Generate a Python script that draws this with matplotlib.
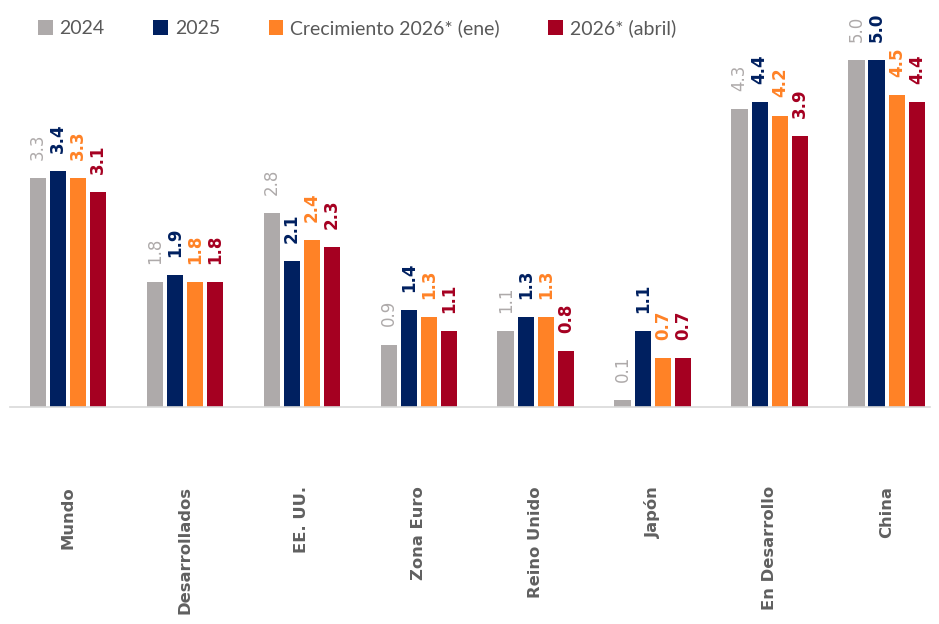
import numpy as np
import matplotlib.pyplot as plt
from matplotlib.patches import Patch

categorias = ["Mundo", "Desarrollados", "EE. UU.", "Zona Euro", "Reino Unido",
              "Japón", "En Desarrollo", "China"]
series = ["2024", "2025", "Crecimiento 2026* (ene)", "2026* (abril)"]
v2024 = [3.3, 1.8, 2.8, 0.9, 1.1, 0.1, 4.3, 5.0]
v2025 = [3.4, 1.9, 2.1, 1.4, 1.3, 1.1, 4.4, 5.0]
v2026_ene = [3.3, 1.8, 2.4, 1.3, 1.3, 0.7, 4.2, 4.5]
v2026_abr = [3.1, 1.8, 2.3, 1.1, 0.8, 0.7, 3.9, 4.4]

colores = ["#AEAAAA", "#002060", "#FF8226", "#A50021"]
negrita = ["normal", "bold", "bold", "bold"]

fig = plt.figure(figsize=(9.39, 6.24), dpi=100)
ax = fig.add_axes([10 / 939, 217 / 624, 920 / 939, 387 / 624])

x = np.arange(len(categorias))
paso = 0.172
ancho = 0.14
valores = [v2024, v2025, v2026_ene, v2026_abr]

for k, vals in enumerate(valores):
    pos = x + (k - 1.5) * paso
    barras = ax.bar(pos, vals, width=ancho, color=colores[k], zorder=2)
    for barra, v in zip(barras, vals):
        ax.annotate(f"{v:.1f}", (barra.get_x() + barra.get_width() / 2, v),
                    xytext=(0, 13), textcoords="offset points",
                    rotation=90, ha="center", va="bottom",
                    fontsize=12, fontweight=negrita[k], color=colores[k],
                    family="DejaVu Sans")

ax.set_xlim(-0.496, 7.37)
ax.set_ylim(0, 387 / 69.4)
ax.set_yticks([])
ax.set_xticks(x)
ax.set_xticklabels(categorias, rotation=90, ha="center", va="top",
                   fontsize=11.8, fontweight="bold", color="#606060",
                   family="DejaVu Sans")
ax.tick_params(axis="x", length=0, pad=57)
for lado in ["top", "right", "left"]:
    ax.spines[lado].set_visible(False)
ax.spines["bottom"].set_color("#D9D9D9")
ax.spines["bottom"].set_linewidth(1.2)

manejadores = [Patch(facecolor=c, edgecolor="none") for c in colores]
fig.legend(manejadores, series, loc="upper left", bbox_to_anchor=(0.022, 0.997),
           ncol=4, frameon=False, handlelength=0.75, handleheight=0.75,
           handletextpad=0.35, columnspacing=2.5,
           prop={"family": "Lato", "size": 14}, labelcolor="#595959")

plt.savefig("out.png", dpi=100)
